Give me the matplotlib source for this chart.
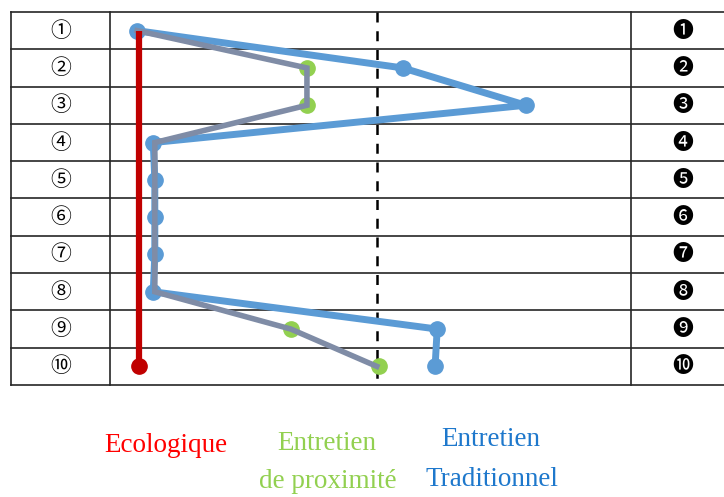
import matplotlib
matplotlib.use("Agg")
import matplotlib.pyplot as plt

# one row per criterion, values read on a 0-100 scale across the middle column
rows = list(range(1, 11))
left_labels = ["①", "②", "③", "④", "⑤", "⑥", "⑦", "⑧", "⑨", "⑩"]
right_labels = ["❶", "❷", "❸", "❹", "❺", "❻", "❼", "❽", "❾", "❿"]

ecologique = [5.6] * 10
traditionnel = [5.2, 56.2, 79.8, 8.3, 8.6, 8.6, 8.6, 8.3, 62.8, 62.4]
proximite_line = [5.2, 37.8, 37.8, 8.6, 8.6, 8.6, 8.6, 8.6, 34.7, 51.2]
proximite_pts = [None, 37.8, 37.8, None, None, None, None, None, 34.7, 51.6]
reference = 51.2

W, H = 724, 497
fig = plt.figure(figsize=(W / 100, H / 100), dpi=100)

# table frame in pixels: left 11, label column ends 110, data ends 631, top 12, bottom 385
px_l, px_c0, px_c1, px_r, px_t, px_b = 11, 110, 631, 724, 12, 385
ax = fig.add_axes([px_l / W, 1 - px_b / H, (px_r - px_l) / W, (px_b - px_t) / H])
scale = (px_c1 - px_c0) / 100
ax.set_xlim((px_l - px_c0) / scale, (px_r - px_c0) / scale)
ax.set_ylim(10.5, 0.5)
ax.axis("off")

x0, x1 = ax.get_xlim()
grid_kw = dict(color="#262626", lw=1.2, clip_on=False, zorder=1)
for b in range(11):
    ax.plot([x0, x1], [b + 0.5, b + 0.5], **grid_kw)
for xv in [x0, 0, 100]:
    ax.plot([xv, xv], [0.5, 10.5], **grid_kw)

ax.plot([reference, reference], [0.5, 10.5], color="black", lw=1.8,
        dashes=(4, 3.5), zorder=2)

# series
ax.plot(traditionnel, rows, color="#5B9BD5", lw=5, marker="o", ms=11,
        solid_capstyle="butt", zorder=3)
ax.plot([p for p in proximite_pts if p is not None],
        [r for r, p in zip(rows, proximite_pts) if p is not None],
        ls="none", marker="o", ms=11, color="#92D050", zorder=4)
ax.plot(proximite_line, rows, color="#7F8CA6", lw=4, zorder=5,
        solid_joinstyle="miter")
ax.plot(ecologique, rows, color="#C00000", lw=4.5, zorder=6,
        solid_capstyle="butt")
ax.plot(ecologique[-1], rows[-1], marker="o", ms=11, color="#C00000", zorder=6)

cjk = ["Noto Sans CJK JP", "DejaVu Sans"]
left_x = ((px_l + px_c0) / 2 - px_c0) / scale
right_x = (683 - px_c0) / scale
for r, a, b in zip(rows, left_labels, right_labels):
    ax.text(left_x, r, a, ha="center", va="center", fontsize=15, family=cjk)
    ax.text(right_x, r, b, ha="center", va="center", fontsize=15, family=cjk)

serif = "Liberation Serif"
def label(x, y, s, c):
    fig.text(x / W, 1 - y / H, s, ha="center", va="center", color=c,
             fontsize=19.5, family=serif)

label(166, 445, "Ecologique", "#FF0000")
label(327, 443, "Entretien", "#92D050")
label(328, 482, "de proximité", "#92D050")
label(491, 439, "Entretien", "#1E78CC")
label(492, 479, "Traditionnel", "#1E78CC")

fig.savefig("out.png", dpi=100)
